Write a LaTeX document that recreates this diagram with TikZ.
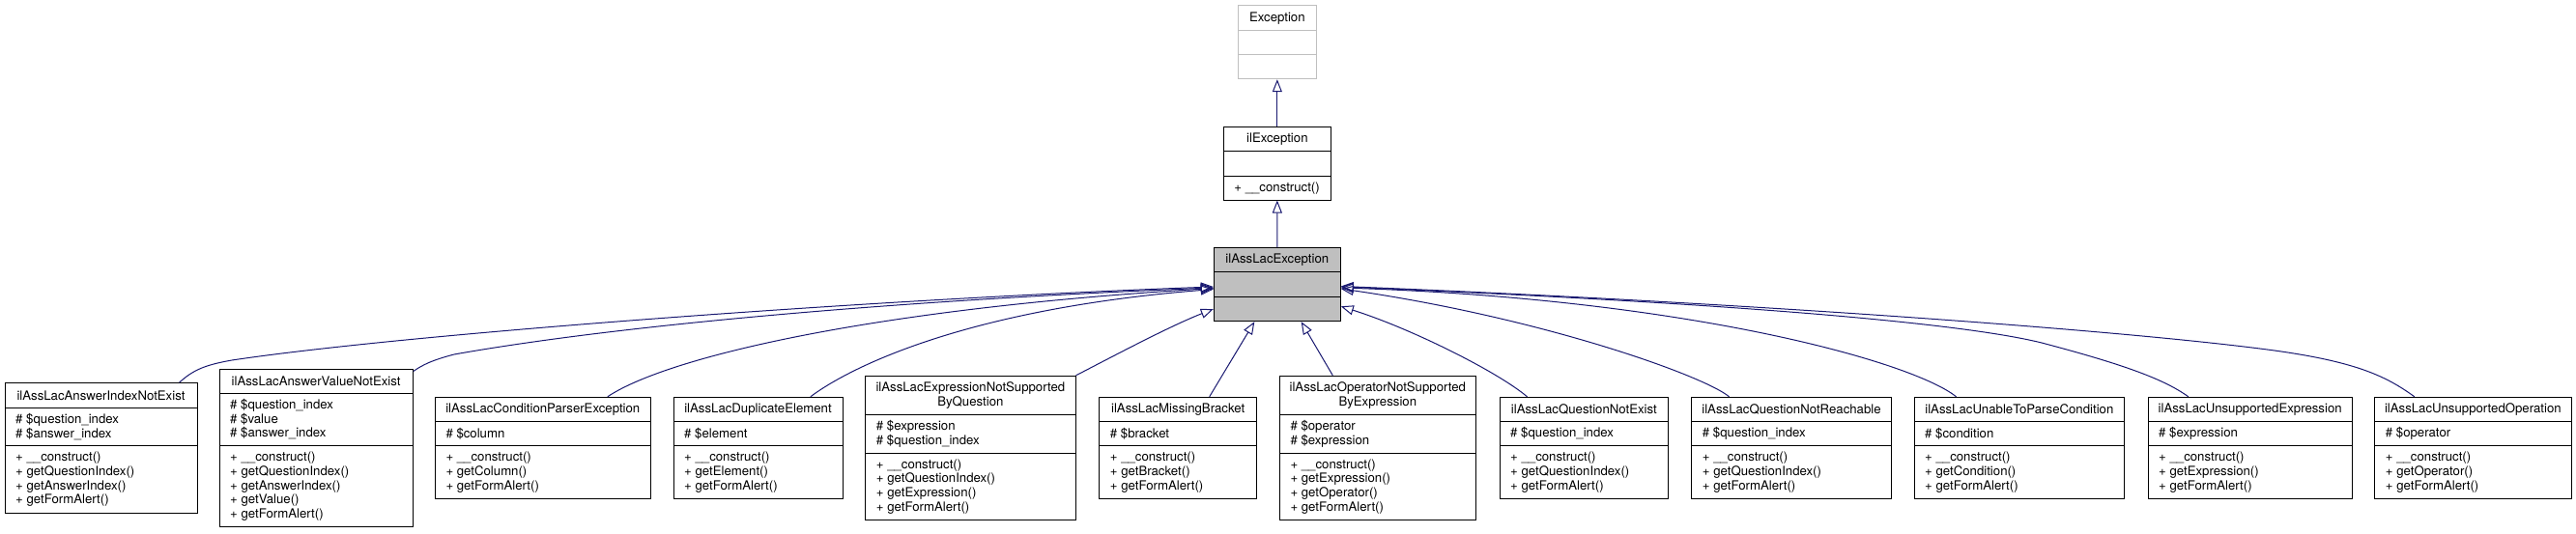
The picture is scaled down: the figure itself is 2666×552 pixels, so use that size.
\documentclass[tikz,border=0pt]{standalone}
\usepackage{fontspec}
\setmainfont{TeX Gyre Heros}
\usetikzlibrary{arrows.meta,fit}
\definecolor{edgecol}{RGB}{25,25,112}
\definecolor{greyline}{RGB}{191,191,191}
\definecolor{selfill}{RGB}{191,191,191}

\newcommand\classbox[8]{%
  \def\bname{#1}\def\bxa{#2}\def\bya{#3}\def\bxb{#4}\def\byb{#5}\def\bda{#6}\def\bdb{#7}%
  \node[cbox,#8,fit={(#2,#3)(#4,#5)}] (#1) {};
  \draw[divider,#8] (#2,#6) -- (#4,#6);
  \draw[divider,#8] (#2,#7) -- (#4,#7);
}
\newcommand\boxtitle[1]{\node[ttl] (\bname-t) at ({(\bxa+\bxb)/2},{(\bya+\bda)/2}) {#1};}
\newcommand\boxattrs[1]{\node[body] (\bname-a) at ({\bxa+11},{(\bda+\bdb)/2}) {#1};}
\newcommand\boxmeths[1]{\node[body] (\bname-m) at ({\bxa+11},{(\bdb+\byb)/2}) {#1};}

\begin{document}
\begin{tikzpicture}[x=1pt,y=-1pt,
  cbox/.style={draw=black, line width=1pt, inner sep=0pt, fill=white},
  divider/.style={draw=black, line width=1pt},
  ttl/.style={inner sep=0pt, align=center, font=\fontsize{13.2}{14.7}\selectfont},
  body/.style={inner sep=0pt, anchor=west, align=left, font=\fontsize{13.2}{14.7}\selectfont},
  inh/.style={draw=edgecol, line width=1pt, -{Triangle[open, length=13pt, width=10pt]}}]
\useasboundingbox (0,0) rectangle (2666,552);

% top hierarchy
\classbox{exn}{1281.7}{5.7}{1362}{81.7}{31.7}{56.7}{draw=greyline}
\boxtitle{Exception}

\classbox{ile}{1266.7}{131.3}{1377}{207}{156.3}{182.3}{}
\boxtitle{ilException}
\node[body] (ile-m) at (1277.2,194.6) {+ \_\_construct()};

\classbox{exc}{1256.3}{256.7}{1387.3}{332.7}{281.7}{307.3}{fill=selfill}
\boxtitle{ilAssLacException}

% children
\classbox{b1}{5}{396.7}{204}{531}{422}{461.7}{}
\boxtitle{ilAssLacAnswerIndexNotExist}
\boxattrs{\# \$question\_index\\\# \$answer\_index}
\boxmeths{+ \_\_construct()\\+ getQuestionIndex()\\+ getAnswerIndex()\\+ getFormAlert()}

\classbox{b2}{227}{382.3}{427.3}{545.7}{407}{461.7}{}
\boxtitle{ilAssLacAnswerValueNotExist}
\boxattrs{\# \$question\_index\\\# \$value\\\# \$answer\_index}
\boxmeths{+ \_\_construct()\\+ getQuestionIndex()\\+ getAnswerIndex()\\+ getValue()\\+ getFormAlert()}

\classbox{b3}{450.3}{411.3}{673.3}{516.3}{436.7}{461.7}{}
\boxtitle{ilAssLacConditionParserException}
\boxattrs{\# \$column}
\boxmeths{+ \_\_construct()\\+ getColumn()\\+ getFormAlert()}

\classbox{b4}{697}{411.3}{872}{516.3}{436.7}{461.7}{}
\boxtitle{ilAssLacDuplicateElement}
\boxattrs{\# \$element}
\boxmeths{+ \_\_construct()\\+ getElement()\\+ getFormAlert()}

\classbox{b5}{895.7}{389.3}{1113}{538.7}{429.3}{469}{}
\boxtitle{ilAssLacExpressionNotSupported\\ByQuestion}
\boxattrs{\# \$expression\\\# \$question\_index}
\boxmeths{+ \_\_construct()\\+ getQuestionIndex()\\+ getExpression()\\+ getFormAlert()}

\classbox{b6}{1137.7}{411.3}{1300.7}{516.3}{436.7}{461.7}{}
\boxtitle{ilAssLacMissingBracket}
\boxattrs{\# \$bracket}
\boxmeths{+ \_\_construct()\\+ getBracket()\\+ getFormAlert()}

\classbox{b7}{1324.3}{389.3}{1527.3}{538.7}{429.3}{469}{}
\boxtitle{ilAssLacOperatorNotSupported\\ByExpression}
\boxattrs{\# \$operator\\\# \$expression}
\boxmeths{+ \_\_construct()\\+ getExpression()\\+ getOperator()\\+ getFormAlert()}

\classbox{b8}{1552}{411.3}{1726.7}{516.3}{436.7}{461.7}{}
\boxtitle{ilAssLacQuestionNotExist}
\boxattrs{\# \$question\_index}
\boxmeths{+ \_\_construct()\\+ getQuestionIndex()\\+ getFormAlert()}

\classbox{b9}{1750.7}{411.3}{1957.3}{516.3}{436.7}{461.7}{}
\boxtitle{ilAssLacQuestionNotReachable}
\boxattrs{\# \$question\_index}
\boxmeths{+ \_\_construct()\\+ getQuestionIndex()\\+ getFormAlert()}

\classbox{b10}{1981}{411.3}{2198.7}{516.3}{436.7}{461.7}{}
\boxtitle{ilAssLacUnableToParseCondition}
\boxattrs{\# \$condition}
\boxmeths{+ \_\_construct()\\+ getCondition()\\+ getFormAlert()}

\classbox{b11}{2223}{411.3}{2434.3}{516.3}{436.7}{461.7}{}
\boxtitle{ilAssLacUnsupportedExpression}
\boxattrs{\# \$expression}
\boxmeths{+ \_\_construct()\\+ getExpression()\\+ getFormAlert()}

\classbox{b12}{2457.7}{411.3}{2661}{516.3}{436.7}{461.7}{}
\boxtitle{ilAssLacUnsupportedOperation}
\boxattrs{\# \$operator}
\boxmeths{+ \_\_construct()\\+ getOperator()\\+ getFormAlert()}

% inheritance edges
\draw[inh] (exc.north) -- (ile.south);
\draw[inh] (ile.north) -- (exn.south);

\draw[inh] ([xshift=-19pt]b1.north east) .. controls (200,383) and (212,378) .. (240,373)
  .. controls (420,346) and (900,310) .. ([yshift=-2.3pt]exc.west);
\draw[inh] ([yshift=-2.7pt]b2.north east) .. controls (437,378) and (447,373) .. (470,367)
  .. controls (650,335) and (950,310) .. ([yshift=-3.3pt]exc.west);
\draw[inh] ([xshift=-45pt]b3.north east) .. controls (690,370) and (900,320) .. ([yshift=-3.8pt]exc.west);
\draw[inh] ([xshift=-33.7pt]b4.north east) .. controls (880,380) and (1000,320) .. ([yshift=-4.8pt]exc.west);
\draw[inh] (b5.north east) .. controls (1150,370) and (1210,338) .. ([yshift=-25.3pt]exc.west);
\draw[inh] ([xshift=32.5pt]b6.north) -- ([xshift=-23.5pt]exc.south);
\draw[inh] ([xshift=-46.5pt]b7.north) -- ([xshift=24.9pt]exc.south);
\draw[inh] ([xshift=29pt]b8.north west) .. controls (1550,385) and (1460,340) .. ([yshift=-22.6pt]exc.east);
\draw[inh] ([xshift=39.3pt]b9.north west) .. controls (1765,390) and (1600,330) .. ([yshift=-4.3pt]exc.east);
\draw[inh] ([xshift=44pt]b10.north west) .. controls (1980,375) and (1750,310) .. ([yshift=-3.3pt]exc.east);
\draw[inh] ([xshift=42.3pt]b11.north west) .. controls (2240,393) and (2200,378) .. (2113,355)
  .. controls (2020,332) and (1750,312) .. ([yshift=-2.3pt]exc.east);
\draw[inh] ([xshift=41.6pt]b12.north west) .. controls (2470,390) and (2440,375) .. (2354,363)
  .. controls (2200,342) and (1800,313) .. ([yshift=-1.8pt]exc.east);
\end{tikzpicture}
\end{document}
